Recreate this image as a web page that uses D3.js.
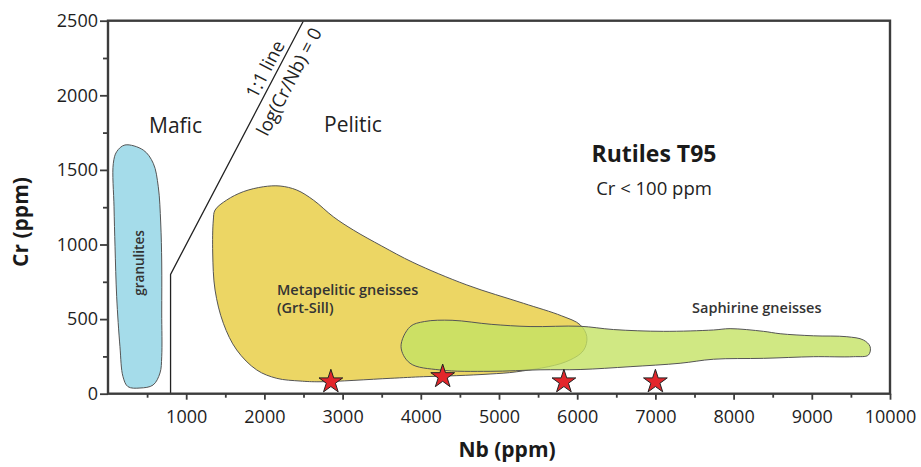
<!DOCTYPE html>
<html lang="en">
  <head>
    <meta charset="utf-8">
    <title>Rutiles T95 - Cr vs Nb</title>
    <style>
      body { margin: 0; background: #fff; }
      svg { display: block; font-family: "Open Sans", sans-serif; }
    </style>
    <script src="https://d3js.org/d3.v7.min.js"></script>
  </head>
  <body>
    <script>
    // fields drawn on the Nb - Cr diagram (Nb ppm, Cr ppm)
    const granulites = [[217,1667],[451,1633],[579,1544],[643,1387],[674,1144],[687,876],[687,541],[687,248],
      [665,139],[576,58],[409,38],[256,47],[192,114],[153,315],[111,650],[90,985],[77,1253],[68,1544],[111,1622]]

    const metapelitic = [[1369,1231],[1518,1298],[1730,1354],[1986,1387],[2200,1392],[2414,1365],[2626,1298],
      [2881,1186],[3137,1097],[3500,990],[3900,880],[4588,729],[5312,606],[5800,522],[6037,462],[6123,382],
      [6080,290],[5845,212],[5227,147],[4886,132],[4460,121],[4033,114],[3607,103],[2711,80],[2456,85],
      [2158,103],[1902,159],[1646,293],[1475,472],[1369,695],[1339,943],[1347,1164]]

    const saphirine = [[3747,315],[3863,449],[4050,484],[4400,492],[4900,465],[5397,450],[6037,452],
      [6463,430],[7103,418],[7742,427],[7955,436],[8381,418],[8595,402],[9021,388],[9448,382],[9660,360],
      [9746,315],[9724,259],[9532,248],[9021,248],[8381,237],[7742,231],[7316,204],[6676,181],[6037,162],
      [5525,160],[4886,150],[4246,159],[3863,204]]

    const oneToOne = [[800,0],[800,800],[2500,2500]]

    const samples = [[2850,80],[4280,115],[5830,80],[7000,80]]

    const xTicks = [1000,2000,3000,4000,5000,6000,7000,8000,9000,10000]
    const xMinor = [500,1500,2500,3500,4500,5500,6500,7500,8500,9500]
    const yTicks = [0,500,1000,1500,2000,2500]
    const yMinor = [250,750,1250,1750,2250]

    const W = 921, H = 467
    const x = d3.scaleLinear().domain([0,10000]).range([108,890])
    const y = d3.scaleLinear().domain([0,2500]).range([393.7,20.7])

    const svg = d3.select("body").append("svg")
      .attr("width",W).attr("height",H)

    const shape = d3.line()
      .x(d=>x(d[0])).y(d=>y(d[1]))
      .curve(d3.curveCatmullRomClosed.alpha(0.5))

    svg.append("path").attr("d",shape(granulites))
      .attr("fill","#a5dcea").attr("stroke","#555").attr("stroke-width",1)

    svg.append("path").attr("d",shape(metapelitic))
      .attr("fill","#ecd664").attr("stroke","#555").attr("stroke-width",1)

    svg.append("path").attr("d",shape(saphirine))
      .attr("fill","#c4e264").attr("fill-opacity",0.8)
      .attr("stroke","#555").attr("stroke-width",1)

    svg.append("path")
      .attr("d",d3.line().x(d=>x(d[0])).y(d=>y(d[1]))(oneToOne))
      .attr("fill","none").attr("stroke","#222").attr("stroke-width",1.3)

    // labels along the 1:1 line
    const ang = Math.atan2(y(2500)-y(800), x(2500)-x(800))*180/Math.PI
    const lab = svg.append("g")
      .attr("transform",`translate(${x(2140)},${y(2140)}) rotate(${ang})`)
      .style("font-size","18.5px").attr("fill","#222").attr("text-anchor","middle")
    lab.append("text").attr("y",-5).text("1:1 line")
    lab.append("text").attr("y",22).text("log(Cr/Nb) = 0")

    svg.append("text").attr("x",149).attr("y",133).style("font-size","21px").attr("fill","#222").text("Mafic")
    svg.append("text").attr("x",324).attr("y",132).style("font-size","21px").attr("fill","#222").text("Pelitic")

    svg.append("text").attr("x",654).attr("y",162).attr("text-anchor","middle")
      .style("font-size","23px").style("font-weight","bold").attr("fill","#1a1a1a").text("Rutiles T95")
    svg.append("text").attr("x",654).attr("y",195).attr("text-anchor","middle")
      .style("font-size","18.5px").attr("fill","#222").text("Cr < 100 ppm")

    svg.append("text").attr("transform","translate(144,263) rotate(-90)").attr("text-anchor","middle")
      .style("font-size","13.5px").style("font-weight","600").attr("fill","#333").text("granulites")

    svg.append("text").attr("x",277).attr("y",295)
      .style("font-size","14.5px").style("font-weight","600").attr("fill","#333").text("Metapelitic gneisses")
    svg.append("text").attr("x",277).attr("y",313)
      .style("font-size","14.5px").style("font-weight","600").attr("fill","#333").text("(Grt-Sill)")
    svg.append("text").attr("x",692).attr("y",313)
      .style("font-size","14.5px").style("font-weight","600").attr("fill","#333").text("Saphirine gneisses")

    svg.selectAll(".star")
      .data(samples)
      .join("path")
      .attr("class","star")
      .attr("transform",d=>`translate(${x(d[0])},${y(d[1])})`)
      .attr("d",d3.symbol(d3.symbolStar).size(175))
      .attr("fill","#e3262b").attr("stroke","#222").attr("stroke-width",1)

    // frame
    svg.append("rect")
      .attr("x",x(0)).attr("y",y(2500))
      .attr("width",x(10000)-x(0)).attr("height",y(0)-y(2500))
      .attr("fill","none").attr("stroke","#3c3c3c").attr("stroke-width",2.4)

    const xAxis = svg.append("g").attr("transform",`translate(0,${y(0)})`)
      .call(d3.axisBottom(x).tickValues(xTicks).tickSize(6).tickPadding(11).tickFormat(d3.format("d")))
    xAxis.append("g")
      .call(d3.axisBottom(x).tickValues(xMinor).tickSize(4).tickFormat(""))

    const yAxis = svg.append("g").attr("transform",`translate(${x(0)},0)`)
      .call(d3.axisLeft(y).tickValues(yTicks).tickSize(8).tickPadding(2).tickFormat(d3.format("d")))
    yAxis.append("g")
      .call(d3.axisLeft(y).tickValues(yMinor).tickSize(5).tickFormat(""))

    svg.selectAll(".domain").remove()
    svg.selectAll(".tick line").attr("stroke","#3c3c3c").attr("stroke-width",1.8)
    svg.selectAll(".tick text")
      .style("font-family","'Open Sans', sans-serif").style("font-size","18px").attr("fill","#1e1e1e")

    svg.append("text").attr("x",507).attr("y",457).attr("text-anchor","middle")
      .style("font-size","21px").style("font-weight","bold").attr("fill","#1a1a1a").text("Nb (ppm)")
    svg.append("text").attr("transform","translate(28,222) rotate(-90)").attr("text-anchor","middle")
      .style("font-size","21px").style("font-weight","bold").attr("fill","#1a1a1a").text("Cr (ppm)")
    </script>
  </body>
</html>
